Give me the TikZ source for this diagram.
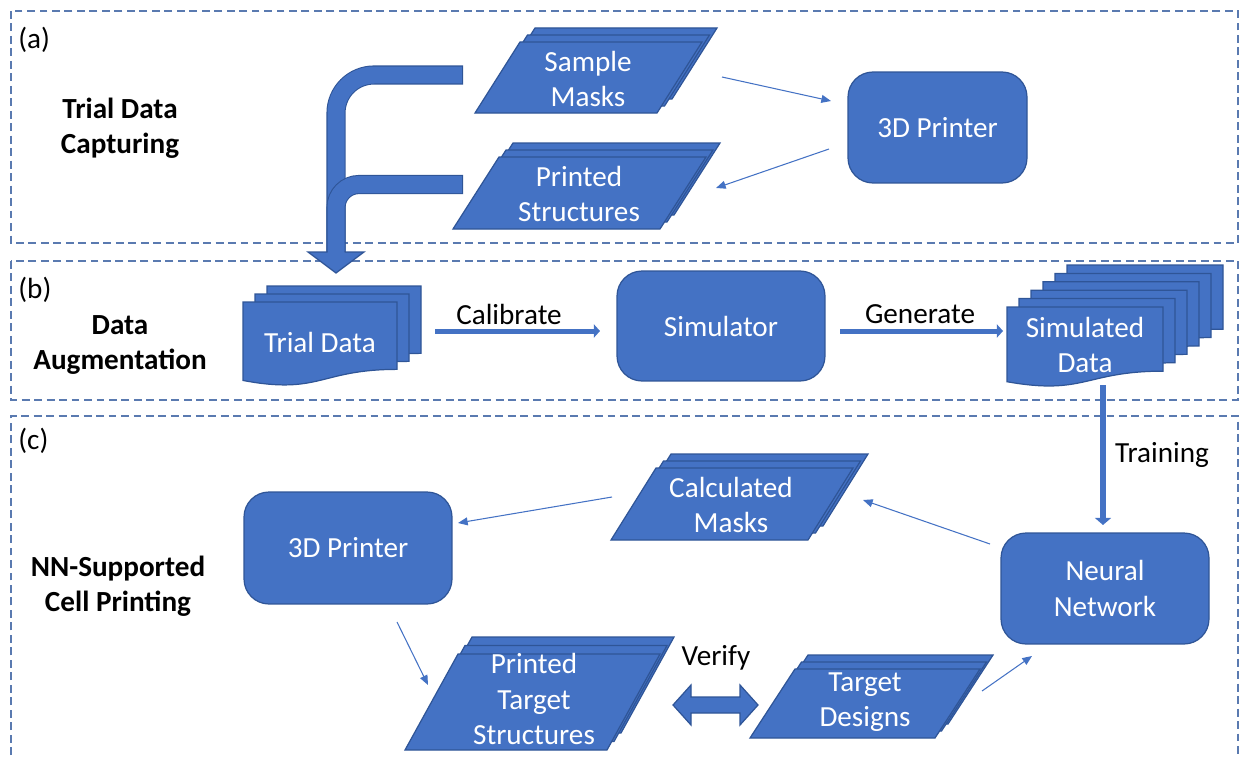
\documentclass[tikz,border=0pt]{standalone}
\usepackage{fontspec}
\setmainfont{Carlito}
\usetikzlibrary{arrows.meta}

\definecolor{boxfill}{HTML}{4472C4}
\definecolor{boxline}{HTML}{2F5597}
\definecolor{framecol}{HTML}{5A7AB0}

\newcommand\lblfont{\fontsize{16.6}{20}\selectfont}

% stack of parallelograms: x,y of front bottom-left, width, height, slant, dx, dy, back index
\newcommand{\stackpara}[8]{%
  \foreach \i in {#8,...,0}{%
    \pgfmathsetmacro\xa{#1+\i*(#6)}%
    \pgfmathsetmacro\ya{#2+\i*(#7)}%
    \filldraw[shapestyle] (\xa,\ya) -- ++(#3,0) -- ++(#5,-#4) -- ++(-#3,0) -- cycle;
  }}

% stack of flowchart documents: x,y of front top-left, width, height, dx, dy, back index
\newcommand{\stackdoc}[7]{%
  \foreach \i in {#7,...,0}{%
    \pgfmathsetmacro\xa{#1+\i*(#5)}%
    \pgfmathsetmacro\ya{#2+\i*(#6)}%
    \filldraw[shapestyle] (\xa,\ya) -- ({\xa+#3},\ya) -- ({\xa+#3},{\ya+0.802*#4})
      .. controls ({\xa+0.5*#3},{\ya+0.802*#4}) and ({\xa+0.5*#3},{\ya+1.107*#4}) .. (\xa,{\ya+0.934*#4}) -- cycle;
  }}

\begin{document}
\begin{tikzpicture}[x=0.02cm, y=-0.02cm,
  shapestyle/.style={fill=boxfill, draw=boxline, line width=0.7pt, line join=miter},
  box/.style={shapestyle, rounded corners=0.5cm, text=white, font=\lblfont, align=center},
  lbl/.style={text=white, font=\lblfont, align=center},
  sect/.style={text=black, font=\lblfont\bfseries, align=center},
  plain/.style={text=black, font=\lblfont, inner sep=0pt},
  frame/.style={draw=framecol, line width=0.8pt, dash pattern=on 4.5pt off 2.6pt},
  thinarrow/.style={draw=boxfill, line width=0.6pt, -{Triangle[length=5.5pt,width=4.5pt]}},
  flowarrow/.style={draw=boxfill, line width=0.1cm, -{Triangle[length=3.5pt,width=7.5pt]}},
  bandout/.style={draw=boxline, line width={0.34cm+1.2pt}},
  bandin/.style={draw=boxfill, line width=0.34cm}]

\useasboundingbox (0,0) rectangle (1239,757);
\clip (0,0) rectangle (1239,757);

% panel frames
\draw[frame] (11,11) rectangle (1238,243);
\draw[frame] (11,261) rectangle (1238,400);
\draw[frame] (11,780) -- (11,416) -- (1238,416) -- (1238,780);
\node[plain, anchor=west] (pa) at (18,40) {(a)};
\node[plain, anchor=west] (pb) at (18,290) {(b)};
\node[plain, anchor=west] (pc) at (18,441) {(c)};

% section captions
\node[sect] (capA) at (120,128) {Trial Data\\Capturing};
\node[sect] (capB) at (120,345) {Data\\Augmentation};
\node[sect] (capC) at (118,586) {NN-Supported\\Cell Printing};

% ---------- (a) trial data capturing ----------
\stackpara{475}{113}{182}{71}{45}{7.5}{-7}{2}
\node[lbl] (smask) at (588,79) {Sample\\Masks};
\stackpara{453}{229}{207}{72}{46}{7}{-7}{2}
\node[lbl] (pstruct) at (579,194) {Printed\\Structures};
\node[box, minimum width=3.58cm, minimum height=2.22cm] (printerA) at (937.5,127.5) {3D Printer};

\coordinate (smOut) at (722,77);
\coordinate (paIn) at (831,101);
\coordinate (paOut) at (829,149);
\coordinate (psIn) at (716,188);
\draw[thinarrow] (smOut) -- (paIn);
\draw[thinarrow] (paOut) -- (psIn);

% ---------- (b) data augmentation ----------
\stackdoc{243}{302}{154}{84}{12}{-8}{2}
\node[lbl] (trial) at (320,342) {Trial Data};
\node[box, minimum width=4.16cm, minimum height=2.2cm] (sim) at (721,326) {Simulator};
\stackdoc{1007}{307}{156}{80}{12}{-8.4}{5}
\node[lbl] (simdata) at (1085,345) {Simulated\\Data};

% merging arrow from the captured masks and structures into the trial data
\coordinate (bandA) at (463,75);
\coordinate (bandB) at (463,184.5);
\coordinate (bandEnd) at (336,252);
\draw[bandout, rounded corners=0.76cm] (bandA) -- (bandA -| bandEnd) -- (bandEnd);
\draw[bandin, rounded corners=0.76cm] ([xshift=-0.6pt]bandA) -- (bandA -| bandEnd) -- ([yshift=-0.5pt]bandEnd);
\draw[bandout, rounded corners=0.46cm] (bandB) -- (bandB -| bandEnd) -- (bandEnd);
\draw[bandin, rounded corners=0.46cm] ([xshift=-0.6pt]bandB) -- (bandB -| bandEnd) -- ([yshift=-0.5pt]bandEnd);
\fill[boxfill] (308,252) -- (364,252) -- (336,273) -- cycle;
\draw[boxline, line width=0.7pt, line join=miter] (327.5,252) -- (308,252) -- (336,273) -- (364,252) -- (344.5,252);

\coordinate (calOut) at (435,331);
\coordinate (calIn) at (600,331);
\coordinate (genOut) at (840,331);
\coordinate (genIn) at (1003,331);
\draw[flowarrow] (calOut) -- (calIn);
\draw[flowarrow] (genOut) -- (genIn);
\node[plain] (calLbl) at (509,314) {Calibrate};
\node[plain] (genLbl) at (920,314) {Generate};

% ---------- (c) NN-supported cell printing ----------
\node[box, minimum width=4.16cm, minimum height=2.22cm] (nn) at (1105,588.5) {Neural\\Network};
\node[box, minimum width=4.16cm, minimum height=2.24cm] (printerC) at (348,548) {3D Printer};
\stackpara{611}{540}{197}{72}{45}{7.5}{-7}{2}
\node[lbl] (cmask) at (731,505) {Calculated\\Masks};
\stackpara{405}{750}{202}{96}{53}{7}{-8.5}{2}
\node[lbl] (ptarget) at (534,699) {Printed\\Target\\Structures};
\stackpara{750}{738}{185}{69}{45}{6.5}{-7}{2}
\node[lbl] (tdesign) at (865,702) {Target\\Designs};

\coordinate (trOut) at (1103,385);
\coordinate (trIn) at (1103,525);
\draw[draw=boxfill, line width=0.12cm, -{Triangle[length=4pt,width=9pt]}] (trOut) -- (trIn);
\node[plain] (trLbl) at (1162,455) {Training};

\coordinate (nnOut) at (990,544);
\coordinate (cmIn) at (863,500);
\coordinate (cmOut) at (612,497);
\coordinate (pcIn) at (458,523);
\coordinate (pcOut) at (397,622);
\coordinate (ptIn) at (428,685);
\coordinate (tdOut) at (982,691);
\coordinate (nnIn) at (1032,656);
\draw[thinarrow] (nnOut) -- (cmIn);
\draw[thinarrow] (cmOut) -- (pcIn);
\draw[thinarrow] (pcOut) -- (ptIn);
\draw[thinarrow] (tdOut) -- (nnIn);

% verification double arrow
\filldraw[shapestyle] (673,705) -- (691,685) -- (691,697) -- (740,697) -- (740,685) -- (758,705)
  -- (740,725) -- (740,713) -- (691,713) -- (691,725) -- cycle;
\node[plain] (verLbl) at (716,658) {Verify};

\end{tikzpicture}
\end{document}
